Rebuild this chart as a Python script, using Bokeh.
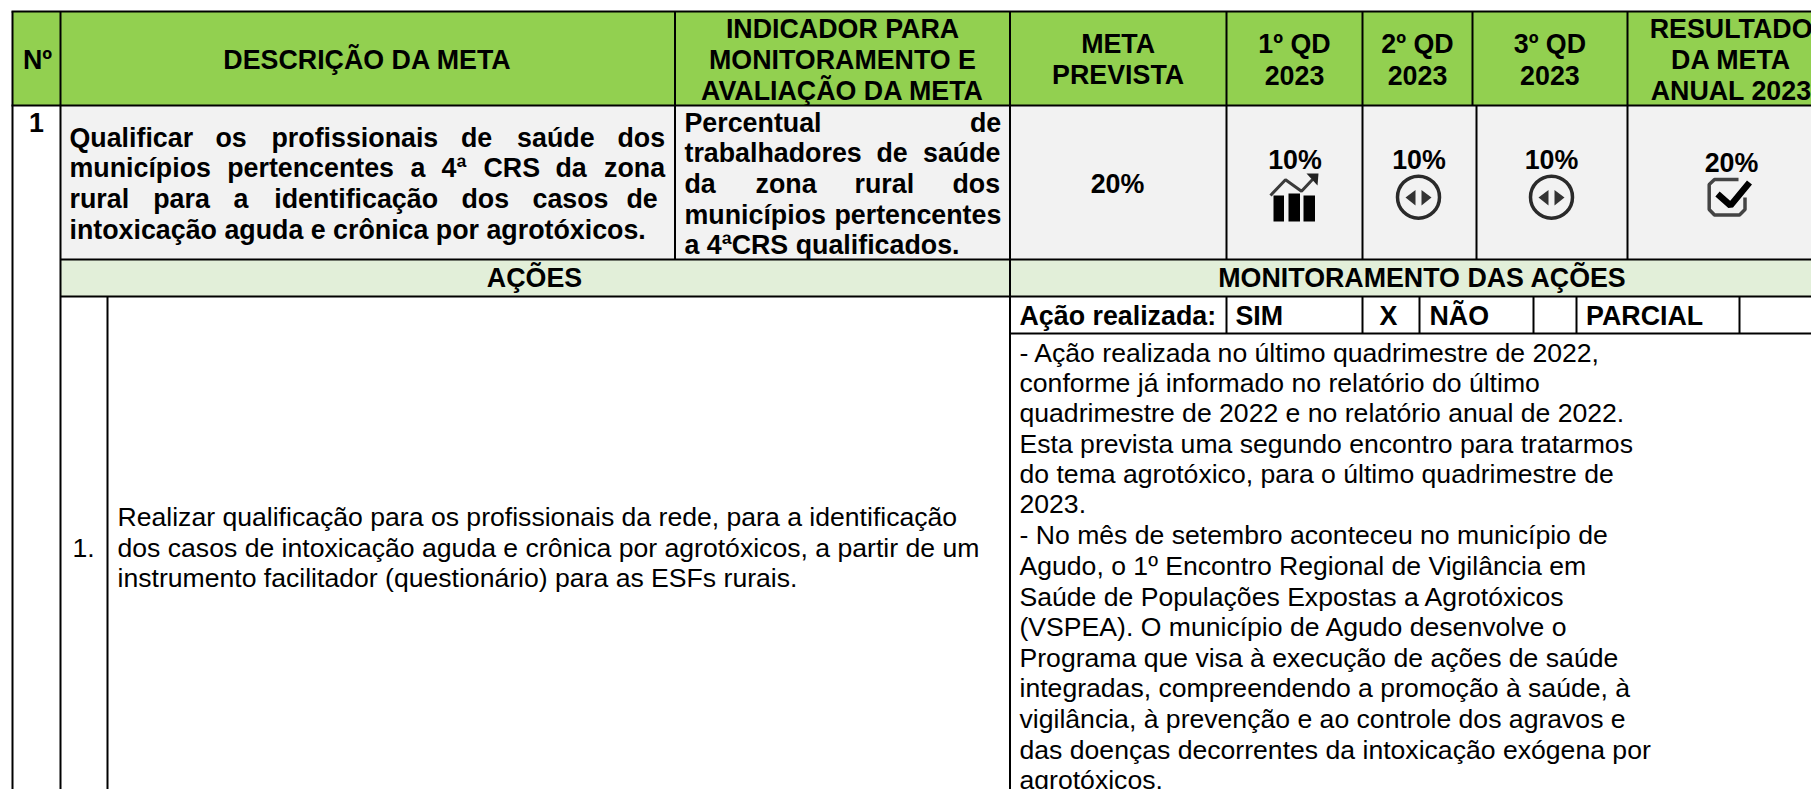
from bokeh.plotting import figure
from bokeh.models import Range1d, ColumnDataSource
from bokeh.core.properties import value
from bokeh.embed import file_html
from bokeh.resources import INLINE

# ---------- content ----------
header_labels = ["Nº", "DESCRIÇÃO DA META", "INDICADOR PARA", "MONITORAMENTO E", "AVALIAÇÃO DA META",
                 "META", "PREVISTA", "1º QD", "2023", "2º QD", "2023", "3º QD", "2023",
                 "RESULTADO", "DA META", "ANUAL 2023"]
goal_lines = [["Qualificar", "os", "profissionais", "de", "saúde", "dos"],
              ["municípios", "pertencentes", "a", "4ª", "CRS", "da", "zona"],
              ["rural", "para", "a", "identificação", "dos", "casos", "de"],
              ["intoxicação aguda e crônica por agrotóxicos."]]
indicator_lines = [["Percentual", "de"],
                   ["trabalhadores", "de", "saúde"],
                   ["da", "zona", "rural", "dos"],
                   ["municípios", "pertencentes"],
                   ["a 4ªCRS qualificados."]]
percent_labels = ["20%", "10%", "10%", "10%", "20%"]
section_labels = ["AÇÕES", "MONITORAMENTO DAS AÇÕES"]
status_labels = ["Ação realizada:", "SIM", "X", "NÃO", "PARCIAL"]
action_lines = ["Realizar qualificação para os profissionais da rede, para a identificação",
                "dos casos de intoxicação aguda e crônica por agrotóxicos, a partir de um",
                "instrumento facilitador (questionário) para as ESFs rurais."]
monitor_lines = ["- Ação realizada no último quadrimestre de 2022,",
                 "conforme já informado no relatório do último",
                 "quadrimestre de 2022 e no relatório anual de 2022.",
                 "Esta prevista uma segundo encontro para tratarmos",
                 "do tema agrotóxico, para o último quadrimestre de",
                 "2023.",
                 "- No mês de setembro aconteceu no município de",
                 "Agudo, o 1º Encontro Regional de Vigilância em",
                 "Saúde de Populações Expostas a Agrotóxicos",
                 "(VSPEA). O município de Agudo desenvolve o",
                 "Programa que visa à execução de ações de saúde",
                 "integradas, compreendendo a promoção à saúde, à",
                 "vigilância, à prevenção e ao controle dos agravos e",
                 "das doenças decorrentes da intoxicação exógena por",
                 "agrotóxicos."]

# ---------- page layout (page pixels) ----------
W, H, OFF = 1811, 789, 0
RIGHT, BOTTOM = 1811, 789
Y_TOP, Y_HEAD, Y_ROW, Y_SEC, Y_STATUS = 11, 105, 259, 296, 333
X0, X1, X2, X3, X4 = 12, 60, 107, 674.5, 1009.5
X5, X6, X7A, X7B, X8 = 1226, 1362, 1472, 1476, 1627
STATUS_X = [1419, 1533, 1576, 1739]

GREEN, GRAY, PALE = "#92D050", "#F2F2F2", "#E2EFD9"
FONT = value("Liberation Sans")
SIZE_B, SIZE_R = "26.8px", "26.6px"
BASE = -8

p = figure(width=W, height=H, x_range=Range1d(OFF, OFF + W), y_range=Range1d(OFF + H, OFF),
           output_backend="svg", toolbar_location=None, x_axis_location=None, y_axis_location=None,
           min_border=0, outline_line_color=None, background_fill_color="white",
           border_fill_color="white")
p.grid.visible = False

# cell fills
p.quad(left=[X0, X1, X1], right=[RIGHT + 30] * 3, top=[Y_TOP, Y_HEAD, Y_ROW],
       bottom=[Y_HEAD, Y_ROW, Y_SEC], fill_color=[GREEN, GRAY, PALE], line_color=None)

# rules
vx = [X0, X1, X2, X3, X4, X5, X6, X7A, X7B, X8, X5, X6] + STATUS_X
vt = [Y_TOP, Y_TOP, Y_SEC, Y_TOP, Y_TOP, Y_TOP, Y_TOP, Y_TOP, Y_HEAD, Y_TOP, Y_SEC, Y_SEC] + [Y_SEC] * 4
vb = [BOTTOM, BOTTOM, BOTTOM, Y_ROW, BOTTOM, Y_ROW, Y_ROW, Y_HEAD, Y_ROW, Y_ROW, Y_STATUS, Y_STATUS] + [Y_STATUS] * 4
p.segment(x0=vx, x1=vx, y0=vt, y1=vb, line_color="black", line_width=2)
hy = [Y_TOP, Y_HEAD, Y_ROW, Y_SEC, Y_STATUS]
hl = [X0 - 1, X0 - 1, X1, X1, X4]
p.segment(x0=hl, x1=[RIGHT + 30] * 5, y0=hy, y1=hy, line_color="black", line_width=2)


def texts(xs, ys, labels, bold=True, align="left", size=None):
    src = ColumnDataSource(dict(x=xs, y=[v + BASE for v in ys], t=labels))
    p.text(x="x", y="y", text="t", source=src, text_font=FONT,
           text_font_style="bold" if bold else "normal",
           text_font_size=value(size or (SIZE_B if bold else SIZE_R)),
           text_align=align, text_baseline="alphabetic", text_color="black")


# header
hx = [37, 367, 842, 842, 842, 1117.6, 1117.6, 1294, 1294, 1417, 1417, 1549.4, 1549.4, 1730.6, 1730.6, 1730.6]
hby = [67.7, 67.7, 36.7, 67.7, 98.3, 51, 82.7, 51, 82.7, 51, 82.7, 51, 82.7, 36.7, 67.7, 98.3]
texts(hx, hby, header_labels, align="center")

# row 1
texts([36], [130], ["1"], align="center")
goal_x = [[69, 215, 271, 460.5, 516.6, 617], [69, 226.7, 410, 441, 483, 555, 603.5],
          [69, 152.7, 233, 273.7, 461, 532, 626], [69]]
goal_y = [145, 175.7, 206.7, 237.3]
ind_x = [[684, 969.5], [684, 876, 922.5], [684, 755, 854, 952], [684, 834], [684]]
ind_y = [130, 160.7, 191.7, 222.3, 252.3]
for rows, xs, ys in [(goal_lines, goal_x, goal_y), (indicator_lines, ind_x, ind_y)]:
    for words, wx, y in zip(rows, xs, ys):
        texts(wx, [y] * len(words), words)

texts([1117, 1294.5, 1418.5, 1551, 1731], [191.7, 167.7, 167.7, 167.7, 170], percent_labels, align="center")

# section bands
texts([534, 1422], [285.4, 285.4], section_labels, align="center")
texts([1019, 1235, 1379, 1429, 1585.6], [323.3] * 5, status_labels)

# body text
texts([72], [555], ["1."], bold=False)
texts([117] * 3, [524, 555, 585.7], action_lines, bold=False)
mon_y = [360, 390.7, 420.7, 451, 481.7, 511.7, 542.3, 573.3, 604, 634.3, 665, 695.7, 726.7, 757.3, 787.7]
texts([1019] * len(monitor_lines), mon_y, monitor_lines, bold=False)

# icons: rising chart
p.quad(left=[1273, 1288, 1303], right=[1283.5, 1299.5, 1314.5], top=[195, 193, 195], bottom=[221] * 3,
       fill_color="black", line_color=None)
p.line(x=[1270, 1285, 1301, 1312], y=[195, 179.3, 190.7, 179], line_color="#3a3a3a", line_width=3)
p.patch(x=[1306, 1318, 1317], y=[173, 173, 185], fill_color="#222222", line_color=None)

# icons: stable circles
for cx in (1418, 1551):
    p.circle(x=[cx], y=[196.7], radius=21, fill_color=None, line_color="#2a2a2a", line_width=3.5)
    p.patches(xs=[[cx - 13, cx - 3, cx - 3], [cx + 13, cx + 3, cx + 3]],
              ys=[[197, 189.5, 205], [197, 189.5, 205]], fill_color="#333333", line_color=None)

# icon: check box
p.line(x=[1738, 1714, 1708.7, 1708.7, 1714, 1739, 1744.5, 1744.5],
       y=[179, 179, 184, 209, 214.5, 214.5, 209, 197], line_color="#444444", line_width=3.5)
p.line(x=[1717, 1730, 1749], y=[193.5, 205, 182], line_color="black", line_width=6.5)

open("out.html", "w").write(file_html(p, INLINE))
